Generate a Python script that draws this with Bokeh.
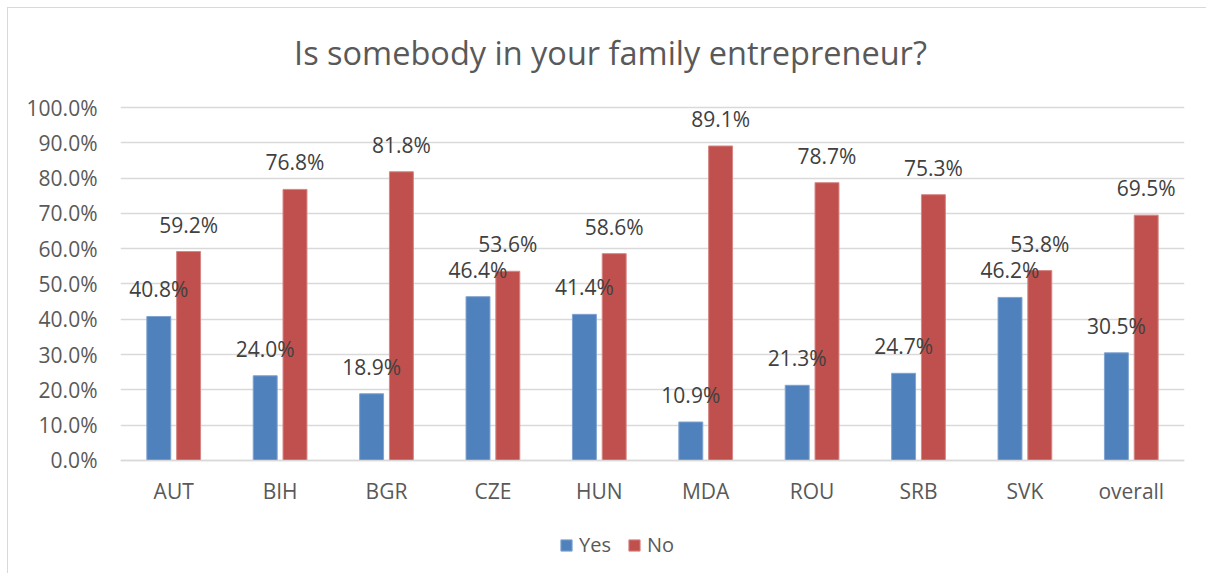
from bokeh.plotting import figure
from bokeh.models import ColumnDataSource, FactorRange, Range1d, FixedTicker, PrintfTickFormatter, Legend, LegendItem, Label
from bokeh.transform import dodge
from bokeh.core.properties import value
from bokeh.embed import file_html
from bokeh.resources import INLINE

categories = ["AUT", "BIH", "BGR", "CZE", "HUN", "MDA", "ROU", "SRB", "SVK", "overall"]
yes_vals = [40.8, 24.0, 18.9, 46.4, 41.4, 10.9, 21.3, 24.7, 46.2, 30.5]
no_vals = [59.2, 76.8, 81.8, 53.6, 58.6, 89.1, 78.7, 75.3, 53.8, 69.5]
y_ticks = [0, 10, 20, 30, 40, 50, 60, 70, 80, 90, 100]
title_text = "Is somebody in your family entrepreneur?"

FONT = "Open Sans"
BLUE = "#4F81BD"
RED = "#C0504D"
TXT = "#595959"
LBL = "#404040"
GRID = "#D9D9D9"

src = ColumnDataSource(dict(
    cat=categories,
    yes=yes_vals,
    no=no_vals,
    yes_lbl=["%.1f%%" % v for v in yes_vals],
    no_lbl=["%.1f%%" % v for v in no_vals],
))

# the frame spans the full height so that title and legend can sit inside it
p = figure(
    x_range=FactorRange(*categories),
    y_range=Range1d(-32.3, 128.05),
    width=1199, height=566,
    output_backend="svg", toolbar_location=None,
    min_border_left=112, min_border_right=23,
    min_border_top=0, min_border_bottom=0,
)
p.styles = {"border-top": "1px solid #D9D9D9", "border-left": "1px solid #D9D9D9",
            "margin-left": "7px", "margin-top": "7px"}
p.outline_line_color = None
p.background_fill_color = "white"
p.border_fill_color = "white"

title = Label(text=title_text, x=490, y=522, x_units="screen", y_units="screen",
              text_align="center", text_baseline="alphabetic",
              text_font=FONT, text_font_size="32.5px", text_color=TXT)
p.add_layout(title, "center")

r_yes = p.vbar(x=dodge("cat", -0.14, range=p.x_range), top="yes", width=0.225, source=src,
               fill_color=BLUE, line_color="#7FA3CF", line_width=1)
r_no = p.vbar(x=dodge("cat", 0.14, range=p.x_range), top="no", width=0.225, source=src,
              fill_color=RED, line_color="#D68684", line_width=1)

p.text(x=dodge("cat", -0.14, range=p.x_range), y="yes", text="yes_lbl", source=src,
       text_font=value(FONT), text_font_size="21px", text_color=LBL,
       text_align="center", text_baseline="alphabetic", y_offset=-27)
p.text(x=dodge("cat", 0.14, range=p.x_range), y="no", text="no_lbl", source=src,
       text_font=value(FONT), text_font_size="21px", text_color=LBL,
       text_align="center", text_baseline="alphabetic", y_offset=-27)

p.xgrid.grid_line_color = None
p.ygrid.grid_line_color = GRID
p.ygrid.grid_line_width = 1.5
p.ygrid.ticker = FixedTicker(ticks=y_ticks)

p.yaxis.ticker = FixedTicker(ticks=y_ticks)
p.yaxis.formatter = PrintfTickFormatter(format="%.1f%%")
p.yaxis.axis_line_color = None
p.yaxis.major_tick_line_color = None
p.yaxis.minor_tick_line_color = None
p.yaxis.major_tick_out = 0
p.yaxis.major_label_standoff = 23
p.yaxis.major_label_text_font = FONT
p.yaxis.major_label_text_font_size = "21px"
p.yaxis.major_label_text_color = TXT

p.xaxis.fixed_location = 0
p.xaxis.axis_line_color = GRID
p.xaxis.axis_line_width = 1.5
p.xaxis.major_tick_line_color = None
p.xaxis.minor_tick_line_color = None
p.xaxis.major_tick_out = 0
p.xaxis.major_label_standoff = 17
p.xaxis.major_label_text_font = FONT
p.xaxis.major_label_text_font_size = "21px"
p.xaxis.major_label_text_color = TXT

legend = Legend(items=[LegendItem(label="Yes", renderers=[r_yes]), LegendItem(label="No", renderers=[r_no])],
                orientation="horizontal", location=(439, 16),
                padding=0, margin=0, spacing=16, label_standoff=6,
                glyph_width=14, glyph_height=14, label_height=14,
                label_text_font=FONT, label_text_font_size="20px", label_text_color=TXT,
                border_line_color=None, background_fill_alpha=0)
p.add_layout(legend, "center")

open("out.html", "w").write(file_html(p, INLINE))
